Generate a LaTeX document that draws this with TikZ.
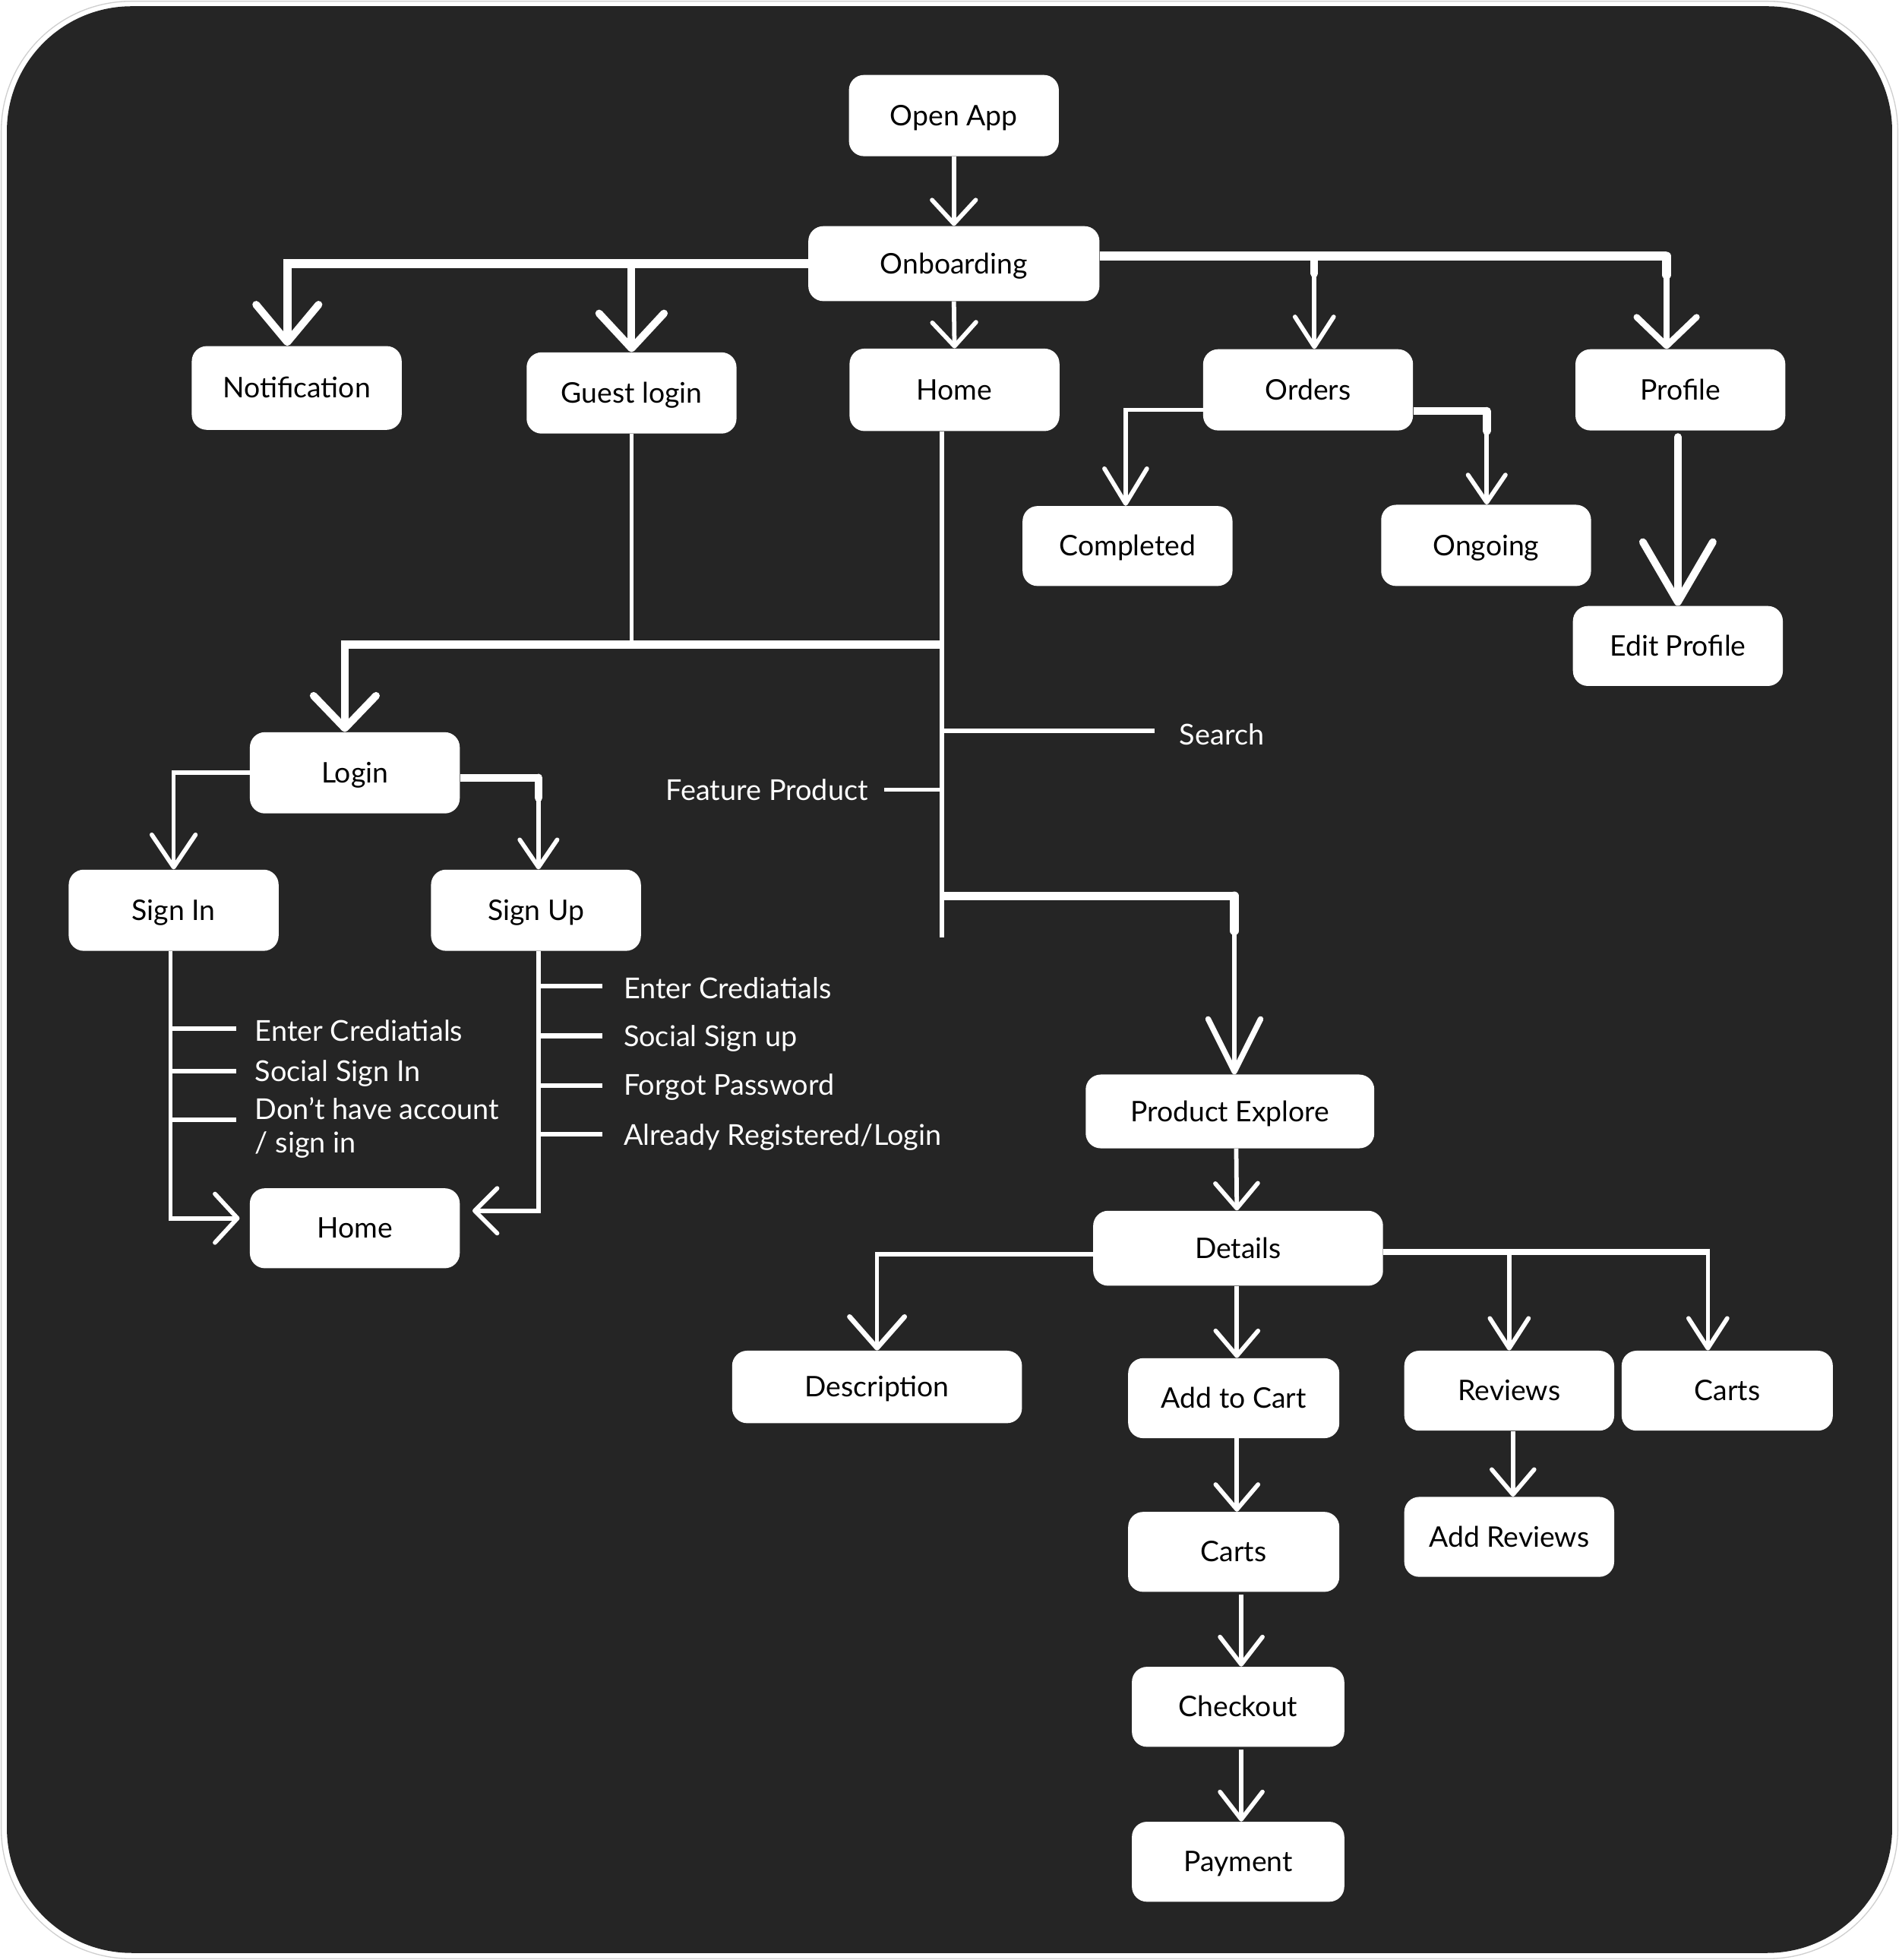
\documentclass[tikz,border=0pt]{standalone}
\usepackage{fontspec}
\setmainfont{Lato}
\usetikzlibrary{arrows.meta,calc}
\definecolor{bgdark}{HTML}{252525}
\definecolor{rimgray}{HTML}{CFCFCF}
\tikzset{
  box/.style={rectangle, fill=white, rounded corners=12pt, text=black,
    font=\fontsize{22.7}{27}\selectfont, inner sep=0pt,
    text height=18pt, text depth=2pt,
    minimum width=168pt, minimum height=65pt},
  lbl/.style={text=white, font=\fontsize{23}{27}\selectfont, inner sep=0pt, anchor=west},
  wire/.style={draw=white, line width=#1},
  knob/.style={draw=white, line width=#1, line cap=round},
  barb/.style n args={3}{-{Straight Barb[length=#1pt,width=#2pt,line width=#3pt,round]}}
}
\begin{document}
\begin{tikzpicture}[x=1pt,y=-1pt]
\useasboundingbox (0,0) rectangle (1520,1568.64);
% background
\fill[white] (0,0) rectangle (1520,1568.64);
\draw[rimgray, line width=0.8pt, rounded corners=104pt] (1,1) rectangle (1519,1567.6);
\fill[bgdark, rounded corners=100pt] (5.5,5) rectangle (1514.5,1563);

% nodes
\node[box] (open) at (763.5,92.5) {Open App};
\node[box, minimum width=233pt, minimum height=60pt] (onb) at (763.5,211) {Onboarding};
\node[box, minimum height=67pt] (notif) at (237.5,310.5) {Notification};
\node[box] (guest) at (505.5,314.5) {Guest login};
\node[box, minimum height=66pt] (home) at (764,312) {Home};
\node[box] (orders) at (1047,312) {Orders};
\node[box] (profile) at (1345,312) {Profile};
\node[box, minimum height=64pt] (completed) at (902.5,437) {Completed};
\node[box] (ongoing) at (1189.5,436.5) {Ongoing};
\node[box, minimum height=64pt] (edit) at (1343,517) {Edit Profile};
\node[box] (login) at (284,618.5) {Login};
\node[box] (signin) at (139,728.5) {Sign In};
\node[box] (signup) at (429,728.5) {Sign Up};
\node[box, minimum height=64pt] (home2) at (284,983) {Home};
\node[box, minimum width=231pt, minimum height=59pt] (pe) at (984.5,889.5) {Product Explore};
\node[box, minimum width=232pt, minimum height=60pt] (details) at (991,999) {Details};
\node[box, minimum width=232pt, minimum height=58pt] (desc) at (702,1110) {Description};
\node[box, minimum width=169pt, minimum height=64pt] (addcart) at (987.5,1119) {Add to Cart};
\node[box, minimum height=64pt] (reviews) at (1208,1113) {Reviews};
\node[box, minimum width=169pt, minimum height=64pt] (carts2) at (1382.5,1113) {Carts};
\node[box, minimum width=169pt, minimum height=64pt] (carts) at (987.5,1242) {Carts};
\node[box, minimum height=64pt] (addrev) at (1208,1230) {Add Reviews};
\node[box, minimum width=170pt, minimum height=64pt] (checkout) at (991,1366) {Checkout};
\node[box, minimum width=170pt, minimum height=64pt] (payment) at (991,1490) {Payment};

% labels
\node[lbl] (search) at (944,588) {Search};
\node[lbl, anchor=east] (feat) at (695,632) {Feature Product};
\node[lbl] (si1) at (204,825) {Enter Crediatials};
\node[lbl] (si2) at (204,859) {Social Sign In};
\node[lbl] (si3) at (204,887) {Don’t have account};
\node[lbl] (si4) at (204,916) {/ sign in};
\node[lbl] (su1) at (499,791) {Enter Crediatials};
\node[lbl] (su2) at (499,831) {Social Sign up};
\node[lbl] (su3) at (499,870) {Forgot Password};
\node[lbl] (su4) at (499,910) {Already Registered/Login};

% top chain
\draw[wire=3.5pt, barb={19}{35}{3.5}] (open.south) -- (onb.north);
\draw[wire=3.5pt, barb={19}{35}{3.5}] (onb.south) -- (home.north);

% onboarding left branch
\draw[wire=7pt, barb={30}{50}{6}] (onb.west) -| ($(notif.north)+(-7.5,0)$);
\draw[wire=6pt, barb={28}{52}{6}] (guest.north |- onb.west) -- (guest.north);

% onboarding right branch
\coordinate (rj) at ($(onb.east)+(0,-6)$);
\coordinate (pr) at ($(profile.north)+(-11,0)$);
\coordinate (oj) at ($(orders.north)+(5,0)$);
\draw[wire=7pt] (rj) -- (pr |- rj);
\draw[knob=6pt] (oj |- rj) -- ++(0,14);
\draw[wire=3.5pt, barb={24}{31}{3.5}] (oj |- rj) -- (oj);
\draw[knob=7pt] (pr |- rj) -- ++(0,15);
\draw[wire=5pt, barb={23}{48}{5}] (pr |- rj) -- (pr);

% orders children
\draw[wire=3.5pt, barb={28}{34}{3.5}] ($(orders.west)+(0,16)$) -| ($(completed.north)+(-1.5,0)$);
\coordinate (oe) at ($(orders.east)+(0,17)$);
\coordinate (ogj) at ($(ongoing.north)+(0.5,0)$);
\draw[wire=6.5pt] (oe) -- (ogj |- oe);
\draw[knob=6.5pt] (ogj |- oe) -- ++(0,16);
\draw[wire=3.5pt, barb={22}{30}{3.5}] (ogj |- oe) -- (ogj);

% profile -> edit
\draw[wire=6pt, line cap=round, barb={48}{56}{6}] ($(profile.south)+(-2,5)$) -- (edit.north);

% guest / home down to login
\coordinate (jH) at (754,516);
\coordinate (homeEnd) at (754,750);
\draw[wire=3.5pt] ($(home.south)+(-10,0)$) -- (homeEnd);
\draw[wire=3.5pt] (guest.south) -- (guest.south |- jH);
\draw[wire=6.5pt, barb={26}{50}{6}] (jH) -| ($(login.north)+(-8,0)$);

% search / feature product
\coordinate (jS) at (754,585);
\draw[wire=3.5pt] (jS) -- ($(search.west)+(-20,-3)$);
\draw[wire=3pt] ($(feat.east)+(13,0)$) -- (feat.east -| jS);

% home -> product explore
\coordinate (jP) at (754,717);
\coordinate (pk) at ($(pe.north)+(3.5,0)$);
\draw[wire=7pt] (jP) -- (pk |- jP);
\draw[knob=7pt] (pk |- jP) -- ++(0,28);
\draw[wire=3.5pt, barb={42}{42}{4.5}] (pk |- jP) -- (pk);

% login children
\draw[wire=3.5pt, barb={26}{35}{3.5}] (login.west) -| (signin.north);
\coordinate (le) at ($(login.east)+(0,4)$);
\coordinate (sk) at ($(signup.north)+(2,0)$);
\draw[wire=6.5pt] (le) -- (sk |- le);
\draw[knob=6.5pt] (sk |- le) -- ++(0,16);
\draw[wire=3.5pt, barb={22}{30}{3.5}] (sk |- le) -- (sk);

% sign in -> home
\coordinate (sv) at ($(signin.south)+(-2.5,0)$);
\draw[wire=3.5pt, barb={18}{39}{3.5}] (sv) |- ($(home2.west)+(-8,-8)$);
\draw[wire=3.7pt] ($(sv |- si1.west)+(0,-2)$) -- ($(si1.west)+(-15,-2)$);
\draw[wire=3.7pt] ($(sv |- si2.west)+(0,-2)$) -- ($(si2.west)+(-15,-2)$);
\draw[wire=3.7pt] ($(sv |- si3.west)+(0,9)$) -- ($(si3.west)+(-15,9)$);

% sign up -> home
\coordinate (uv) at ($(signup.south)+(2,0)$);
\draw[wire=3.5pt, barb={18}{36}{3.5}] (uv) |- ($(home2.east)+(10,-14)$);
\draw[wire=3.7pt] ($(uv |- su1.west)+(0,-2)$) -- ($(su1.west)+(-17,-2)$);
\draw[wire=3.7pt] ($(uv |- su2.west)+(0,-2)$) -- ($(su2.west)+(-17,-2)$);
\draw[wire=3.7pt] ($(uv |- su3.west)+(0,-1)$) -- ($(su3.west)+(-17,-1)$);
\draw[wire=3.7pt] ($(uv |- su4.west)+(0,-2)$) -- ($(su4.west)+(-17,-2)$);

% product explore -> details
\draw[wire=3.5pt, barb={20}{34}{3.5}] ($(pe.south)+(5,0)$) -- ($(details.north)+(-1,0)$);

% details children
\draw[wire=3.5pt, barb={25}{44}{4}] ($(details.west)+(0,5)$) -| (desc.north);
\draw[wire=3.5pt, barb={20}{34}{3.5}] ($(details.south)+(-1,0)$) -- ($(addcart.north)+(2.5,0)$);
\coordinate (dr) at ($(details.east)+(0,3)$);
\coordinate (c2k) at ($(carts2.north)+(-15.5,0)$);
\draw[wire=5pt] (dr) -- ($(c2k |- dr)+(1.75,0)$);
\draw[wire=3.5pt, barb={24}{31}{3.5}] ($(c2k |- dr)+(0,-2.5)$) -- (c2k);
\draw[wire=3.5pt, barb={24}{31}{3.5}] (reviews.north |- dr) -- (reviews.north);

% lower chain
\draw[wire=3.5pt, barb={20}{34}{3.5}] ($(addcart.south)+(2.5,0)$) -- ($(carts.north)+(2.5,0)$);
\draw[wire=3.5pt, barb={22}{34}{3.5}] ($(carts.south)+(6,2)$) -- ($(checkout.north)+(2.5,0)$);
\draw[wire=3.5pt, barb={22}{34}{3.5}] ($(checkout.south)+(2.5,2)$) -- ($(payment.north)+(2.5,0)$);
\draw[wire=3.5pt, barb={20}{34}{3.5}] ($(reviews.south)+(3,0)$) -- ($(addrev.north)+(3,0)$);
\end{tikzpicture}
\end{document}
